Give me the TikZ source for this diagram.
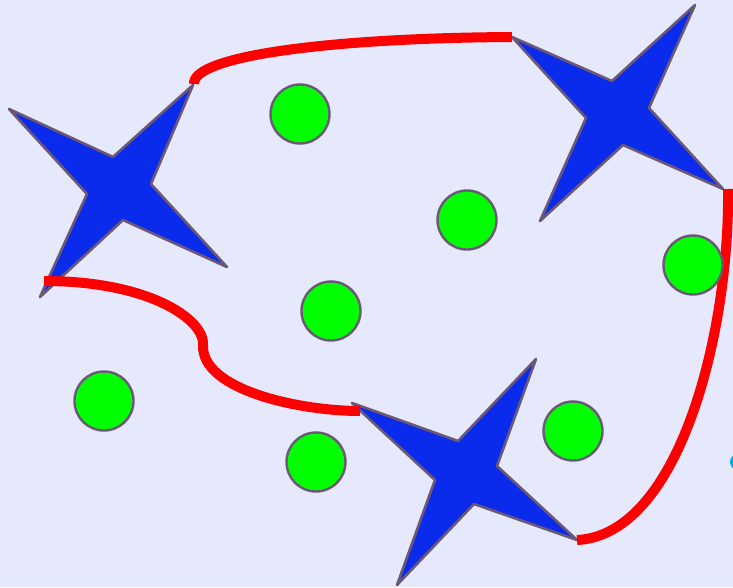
\documentclass[tikz,border=0pt]{standalone}
\usetikzlibrary{positioning}

\definecolor{bgblue}{HTML}{E6E9FC}
\definecolor{starblue}{HTML}{0A2BEB}
\definecolor{edgegray}{HTML}{6B5878}
\definecolor{dotcyan}{HTML}{00AAEE}

\tikzset{
  star/.style={fill=starblue,draw=edgegray,line width=2.6pt,line join=round},
  dot/.style={circle,fill=green,draw=edgegray,line width=2.4pt,minimum size=59pt,inner sep=0pt},
  path/.style={draw=red,line width=10pt,line cap=butt}
}

\begin{document}
\begin{tikzpicture}[x=1pt,y=-1pt]
  \fill[bgblue] (0,0) rectangle (733,587);
  \useasboundingbox (0,0) rectangle (733,587);

  % left star
  \coordinate (L1) at (9,109);
  \coordinate (L2) at (193,85);
  \coordinate (L3) at (227,267);
  \coordinate (L4) at (40,297);
  \draw[star] (L1) -- (113,157) -- (L2) -- (151,184) -- (L3) -- (123,220) -- (L4) -- (87,194) -- cycle;

  % top right star
  \coordinate (R1) at (512,37);
  \coordinate (R2) at (695,5);
  \coordinate (R3) at (723,189);
  \coordinate (R4) at (540,221);
  \draw[star] (R1) -- (612,81) -- (R2) -- (649,108) -- (R3) -- (623,145) -- (R4) -- (586,118) -- cycle;

  % bottom star
  \coordinate (B1) at (352,403);
  \coordinate (B2) at (536,359);
  \coordinate (B3) at (577,540);
  \coordinate (B4) at (397,585);
  \draw[star] (B1) -- (458,441) -- (B2) -- (497,466) -- (B3) -- (474,504) -- (B4) -- (435,480) -- cycle;

  % red paths
  \coordinate (As) at (194,84);
  \coordinate (Ls) at (44,281);
  \coordinate (Be) at (360,411);
  \coordinate (Cs) at (728,189);
  \draw[path] (As) .. controls (192,56) and (330,38) .. (R1);
  \draw[path] (Ls) .. controls (150,281) and (205,320) .. (203,345)
                   .. controls (201,390) and (300,411) .. (Be);
  \draw[path] (Cs) .. controls (730,330) and (680,535) .. (B3);

  % green dots
  \node[dot] (d1) at (300,114) {};
  \node[dot] (d2) at (467,220) {};
  \node[dot] (d3) at (331,311) {};
  \node[dot] (d4) at (693,265) {};
  \node[dot] (d5) at (104,401) {};
  \node[dot] (d6) at (316,462) {};
  \node[dot] (d7) at (573,431) {};

  % cyan mark at the edge
  \fill[dotcyan] (738,462) circle (8);
\end{tikzpicture}
\end{document}
